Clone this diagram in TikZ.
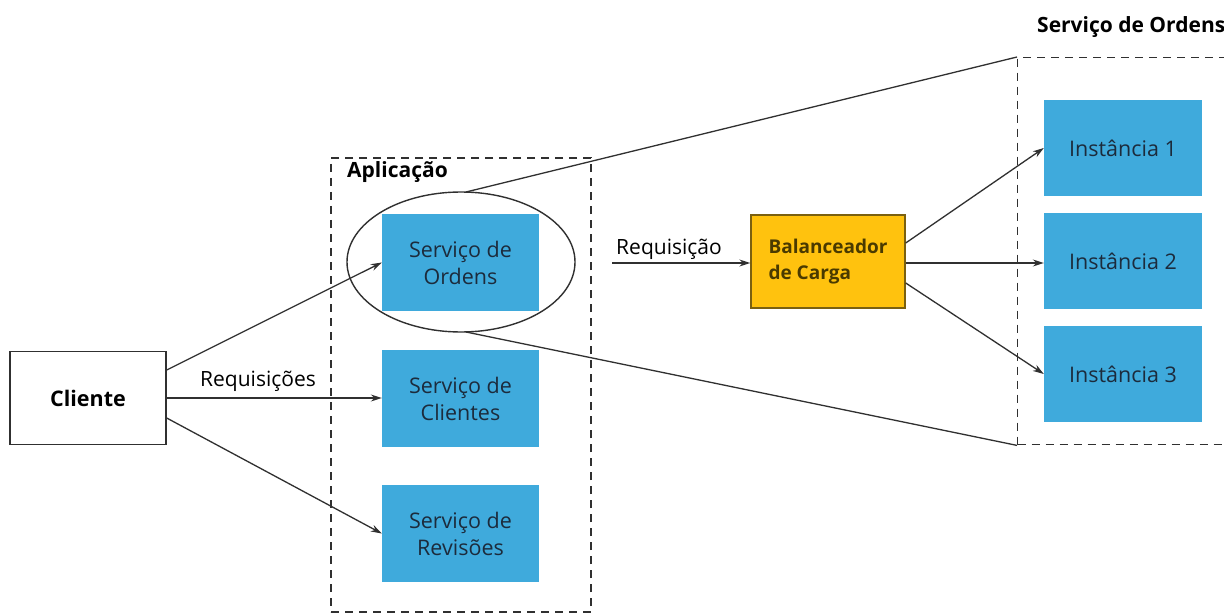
\documentclass[tikz,border=0pt]{standalone}
\usepackage{fontspec}
\setmainfont{Open Sans}
\usetikzlibrary{shapes.geometric,arrows.meta}
\definecolor{svcblue}{HTML}{3FAADC}
\definecolor{svctext}{HTML}{1C2B3C}
\definecolor{lbfill}{HTML}{FFC20E}
\definecolor{lbdraw}{HTML}{7A6010}
\definecolor{lbtext}{HTML}{4A3A00}
\definecolor{linegray}{HTML}{303030}
\tikzset{
  svc/.style={fill=svcblue, minimum width=157pt, minimum height=97pt, inner sep=0pt,
    align=center, text=svctext, font=\fontsize{21.5}{27}\selectfont},
  inst/.style={svc, minimum width=158pt, minimum height=96pt},
  group/.style={draw=linegray, line width=1.4pt, dash pattern=on 8pt off 6pt},
  conn/.style={draw=linegray, line width=1.3pt, -{Stealth[length=11pt,width=7pt]}},
  link/.style={draw=linegray, line width=1.3pt},
  lbl/.style={font=\fontsize{21}{24}\selectfont, text=black, inner sep=0pt},
  title/.style={font=\bfseries\fontsize{21}{24}\selectfont, text=black, inner sep=0pt}
}
\begin{document}
\begin{tikzpicture}[x=1pt, y=-1pt]
\useasboundingbox (0,0) rectangle (1224,615);
\clip (0,0) rectangle (1224,615);
\fill[white] (0,0) rectangle (1224,615);

% groups
\node[group, minimum width=260pt, minimum height=454pt, inner sep=0pt] (app) at (461,385) {};
\node[title, anchor=west] (apptitle) at (347,172) {Aplicação};
\node[group, minimum width=240pt, minimum height=387pt, inner sep=0pt, anchor=north west] (orders) at (1017,57) {};
\node[title, anchor=west] (ordtitle) at (1037,27) {Serviço de Ordens};

% client
\node[draw=linegray, line width=1.4pt, fill=white, minimum width=156pt, minimum height=93pt,
  font=\bfseries\fontsize{21.5}{24}\selectfont] (client) at (88,398) {Cliente};

% services
\node[svc] (s1) at (460.5,262.5) {Serviço de\\Ordens};
\node[svc] (s2) at (460.5,398.5) {Serviço de\\Clientes};
\node[svc] (s3) at (460.5,533.5) {Serviço de\\Revisões};
\node[draw=linegray, line width=1.4pt, ellipse, minimum width=228pt, minimum height=140pt,
  inner sep=0pt] (ell) at (461,262) {};

% load balancer and instances
\node[fill=lbfill, draw=lbdraw, line width=1.4pt, minimum width=154pt, minimum height=93pt,
  inner sep=0pt, align=left, text=lbtext, font=\bfseries\fontsize{19}{26}\selectfont]
  (lb) at (828,261.5) {Balanceador\\de Carga};
\node[inst] (i1) at (1123,148) {Instância 1};
\node[inst] (i2) at (1123,261) {Instância 2};
\node[inst] (i3) at (1123,374) {Instância 3};

% requests from the client
\draw[conn] (client.east |- 0,370) -- (s1.west);
\draw[conn] (client.east |- 0,398) -- (s2.west |- 0,398);
\draw[conn] (client.east |- 0,418) -- (s3.west);
\node[lbl] (req) at (258,381) {Requisições};

% zoom lines from the ellipse
\coordinate (etop) at (466,192);
\coordinate (ebot) at (466,332);
\draw[link] (etop) -- (orders.north west);
\draw[link] (ebot) -- (orders.south west);

% request into the balancer
\coordinate (rin) at (612,263);
\draw[conn] (rin) -- (lb.west |- rin);
\node[lbl] (req2) at (669,249) {Requisição};

% balancer to instances
\draw[conn] (lb.east |- 0,243) -- (i1.west);
\draw[conn] (lb.east |- 0,263) -- (i2.west |- 0,263);
\draw[conn] (lb.east |- 0,283) -- (i3.west);
\end{tikzpicture}
\end{document}
